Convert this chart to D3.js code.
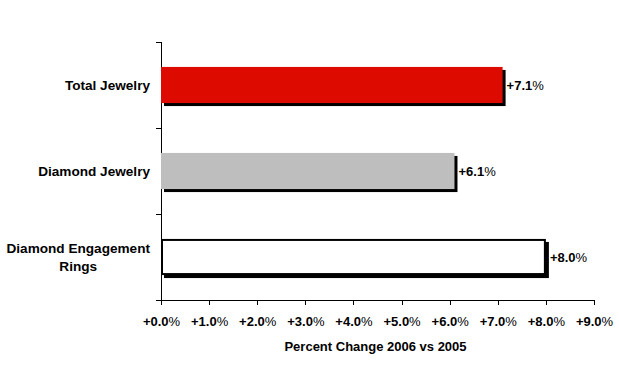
<!DOCTYPE html>
<html><head><meta charset="utf-8">
<script src="https://cdn.jsdelivr.net/npm/d3@7"></script>
<style>body{margin:0;background:#fff}svg{display:block}text{font-family:"Liberation Sans",Arial,sans-serif;font-weight:bold;fill:#000}</style>
</head><body><svg width="619" height="366"></svg>
<script>
const categories = [["Total Jewelry"],["Diamond Jewelry"],["Diamond Engagement","Rings"]];
const values = [7.1, 6.1, 8.0];
const fills = ["#DD0A00", "#BEBEBE", "#FFFFFF"];
const strokes = [null, null, "#000"];
const tickValues = [0,1,2,3,4,5,6,7,8,9];
const axisTitle = "Percent Change 2006 vs 2005";

const svg = d3.select("svg");
const m = {left:161, right:25, top:42, bottom:66};
const W = 619, H = 366;
const x = d3.scaleLinear().domain([0,9]).range([m.left, W - m.right]);
const yLin = d3.scaleLinear().domain([0,3]).range([m.top, H - m.bottom]);
const y = d3.scaleBand().domain(d3.range(categories.length)).range([m.top, H - m.bottom]).paddingInner(0.58).paddingOuter(0.29);

// y axis
svg.append("g").attr("transform",`translate(${m.left},0)`)
  .call(d3.axisLeft(yLin).tickValues([0,1,2,3]).tickSize(5).tickFormat(""))
  .call(g=>{g.selectAll("path,line").attr("stroke","#000").attr("shape-rendering","crispEdges");});

// x axis
const xa = svg.append("g").attr("transform",`translate(0,${H - m.bottom})`)
  .call(d3.axisBottom(x).tickValues(tickValues).tickSize(5).tickSizeOuter(0).tickPadding(9).tickFormat(""));
xa.selectAll("path,line").attr("stroke","#000").attr("shape-rendering","crispEdges");
xa.select("path.domain").attr("d",`M${m.left-5},0.5H${W-m.right}`);
xa.selectAll(".tick text").remove();
xa.selectAll(".tick").append("text").attr("y",26).attr("text-anchor","middle").style("font-size","13px")
  .each(function(d){
    const t=d3.select(this);
    t.append("tspan").text("+"+d.toFixed(1));
    t.append("tspan").style("font-weight","normal").text("%");
  });

svg.append("text").attr("x",(m.left+W-m.right)/2 - 2).attr("y",351).attr("text-anchor","middle")
  .style("font-size","13px").text(axisTitle);

// bars
const bars = svg.append("g");
values.forEach((v,i)=>{
  const y0=y(i), h=y.bandwidth();
  bars.append("rect").attr("x",x(0)+3).attr("y",y0+3).attr("width",x(v)-x(0)).attr("height",h).attr("fill","#000");
  bars.append("rect").attr("x",x(0)+(strokes[i]?1:0)).attr("y",y0+(strokes[i]?1:0))
    .attr("width",x(v)-x(0)-(strokes[i]?2:0)).attr("height",h-(strokes[i]?2:0))
    .attr("fill",fills[i]).attr("stroke",strokes[i]||"none").attr("stroke-width",strokes[i]?2:0);
  const t=bars.append("text").attr("x",x(v)+4).attr("y",y0+h/2+5).style("font-size","13px");
  t.append("tspan").text("+"+v.toFixed(1));
  t.append("tspan").style("font-weight","normal").text("%");
});

// category labels
categories.forEach((lines,i)=>{
  const cy=y(i)+y.bandwidth()/2;
  const g=svg.append("g");
  const n=lines.length, lh=18;
  const texts=lines.map((s,j)=>g.append("text").attr("y",cy+5+(j-(n-1)/2)*lh).style("font-size","13.6px").text(s));
  const maxW=d3.max(texts,t=>t.node().getComputedTextLength());
  texts.forEach(t=>t.attr("x",150-maxW/2).attr("text-anchor","middle"));
});
</script></body></html>
